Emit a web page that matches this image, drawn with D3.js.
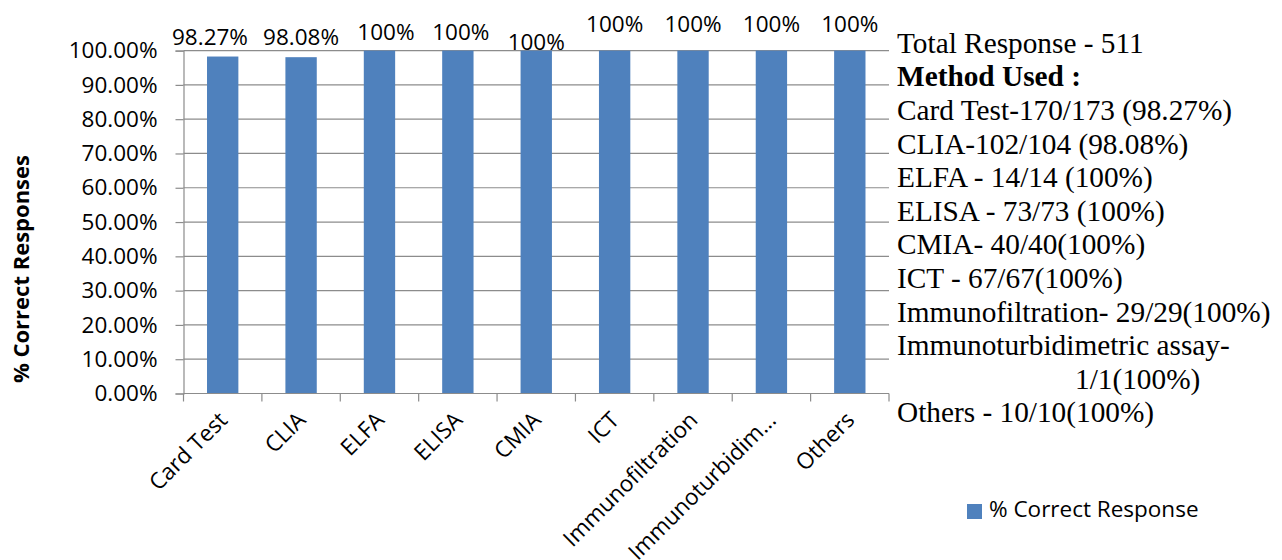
<!DOCTYPE html>
<html>
<head>
<meta charset="utf-8">
<script src="https://cdn.jsdelivr.net/npm/d3@7"></script>
<style>
  html, body { margin: 0; padding: 0; background: #fff; }
  svg { display: block; }
  text { fill: #000; }
</style>
</head>
<body>
<svg id="chart" width="1282" height="560"></svg>
<script>
// Methods and the share of correct responses for each
const methods = ["Card Test", "CLIA", "ELFA", "ELISA", "CMIA", "ICT",
                 "Immunofiltration", "Immunoturbidim...", "Others"];
const correctShare = [0.9827, 0.9808, 1, 1, 1, 1, 1, 1, 1];
const valueLabels = ["98.27%", "98.08%", "100%", "100%", "100%", "100%", "100%", "100%", "100%"];
const yTicks = [0, 0.1, 0.2, 0.3, 0.4, 0.5, 0.6, 0.7, 0.8, 0.9, 1.0];
const seriesName = "% Correct Response";
const axisTitle = "% Correct Responses";

// Summary notes printed beside the plot
const noteLines = [
  "Total Response - 511",
  "Method Used :",
  "Card Test-170/173 (98.27%)",
  "CLIA-102/104 (98.08%)",
  "ELFA - 14/14 (100%)",
  "ELISA - 73/73 (100%)",
  "CMIA- 40/40(100%)",
  "ICT - 67/67(100%)",
  "Immunofiltration- 29/29(100%)",
  "Immunoturbidimetric assay-",
  "1/1(100%)",
  "Others - 10/10(100%)"
];

// Hand placement of the value labels (pixel nudges, not data)
const labelNudge = [[-12.7, -11.7], [0, -12], [6.5, -10.6], [3, -10.6], [0, -0.6],
                    [0, -19], [0, -19], [0, -19], [0, -19]];

const svg = d3.select("#chart");
const plotLeft = 183.5, plotRight = 889, plotTop = 50.6, plotBottom = 393.5;
const gridColor = "#8c8c8c";
const barColor = "#4f81bd";
const sans = "'Open Sans', sans-serif";
const serif = "'Liberation Serif', 'Times New Roman', serif";
const fontSize = 22.5;

const x = d3.scaleBand().domain(methods).range([plotLeft, plotRight])
  .paddingInner(0.6).paddingOuter(0.3);
const y = d3.scaleLinear().domain([0, 1]).range([plotBottom, plotTop]);

// Horizontal gridlines
svg.append("g").selectAll("line").data(yTicks.filter(d => d > 0)).join("line")
  .attr("x1", plotLeft).attr("x2", plotRight)
  .attr("y1", d => y(d)).attr("y2", d => y(d))
  .attr("stroke", gridColor).attr("stroke-width", 1.2);

// Y axis
const yAxis = svg.append("g").attr("transform", `translate(${plotLeft},0)`)
  .call(d3.axisLeft(y).tickValues(yTicks).tickFormat(d3.format(".2%"))
    .tickSize(8).tickPadding(18));
yAxis.select(".domain").attr("stroke", gridColor).attr("stroke-width", 1.2);
yAxis.selectAll(".tick line").attr("stroke", gridColor).attr("stroke-width", 1.2);
yAxis.selectAll(".tick text").style("font-size", fontSize + "px")
  .style("font-family", sans).attr("fill", "#000");

// Bars
svg.append("g").selectAll("rect").data(methods).join("rect")
  .attr("x", d => x(d))
  .attr("width", x.bandwidth())
  .attr("y", (d, i) => y(correctShare[i]))
  .attr("height", (d, i) => y(0) - y(correctShare[i]))
  .attr("fill", barColor);

// X axis line with category boundary ticks
const step = x.step();
const boundaries = d3.range(methods.length + 1).map(i => plotLeft + i * step);
svg.append("line").attr("x1", plotLeft).attr("x2", plotRight)
  .attr("y1", plotBottom).attr("y2", plotBottom)
  .attr("stroke", gridColor).attr("stroke-width", 1.2);
svg.append("g").selectAll("line").data(boundaries).join("line")
  .attr("x1", d => d).attr("x2", d => d)
  .attr("y1", plotBottom).attr("y2", plotBottom + 8)
  .attr("stroke", gridColor).attr("stroke-width", 1.2);

// Rotated category labels
svg.append("g").selectAll("text").data(methods).join("text")
  .attr("transform", d => `translate(${x(d) + x.bandwidth() / 2 + 6},${plotBottom + 28}) rotate(-45)`)
  .attr("text-anchor", "end")
  .style("font-family", sans)
  .style("font-size", fontSize + "px")
  .text(d => d);

// Value labels above bars
svg.append("g").selectAll("text").data(methods).join("text")
  .attr("x", (d, i) => x(d) + x.bandwidth() / 2 + labelNudge[i][0])
  .attr("y", (d, i) => y(correctShare[i]) + labelNudge[i][1])
  .attr("text-anchor", "middle")
  .style("font-family", sans)
  .style("font-size", fontSize + "px")
  .text((d, i) => valueLabels[i]);

// Y axis title
svg.append("text")
  .attr("transform", `translate(29,${(plotTop + plotBottom) / 2 + 47}) rotate(-90)`)
  .attr("text-anchor", "middle")
  .style("font-family", sans)
  .style("font-size", "22px")
  .style("font-weight", "bold")
  .text(axisTitle);

// Notes block
svg.append("g").selectAll("text").data(noteLines).join("text")
  .attr("x", (d, i) => i === 10 ? 1075 : 897)
  .attr("y", (d, i) => 52.7 + i * 33.6)
  .style("font-family", serif)
  .style("font-size", "29.3px")
  .style("font-weight", (d, i) => i === 1 ? "bold" : "normal")
  .text(d => d);

// Legend
const legend = svg.append("g").attr("transform", "translate(967,504)");
legend.append("rect").attr("width", 15).attr("height", 15).attr("fill", barColor);
legend.append("text").attr("x", 22).attr("y", 13)
  .style("font-family", sans).style("font-size", fontSize + "px").text(seriesName);
</script>
</body>
</html>
